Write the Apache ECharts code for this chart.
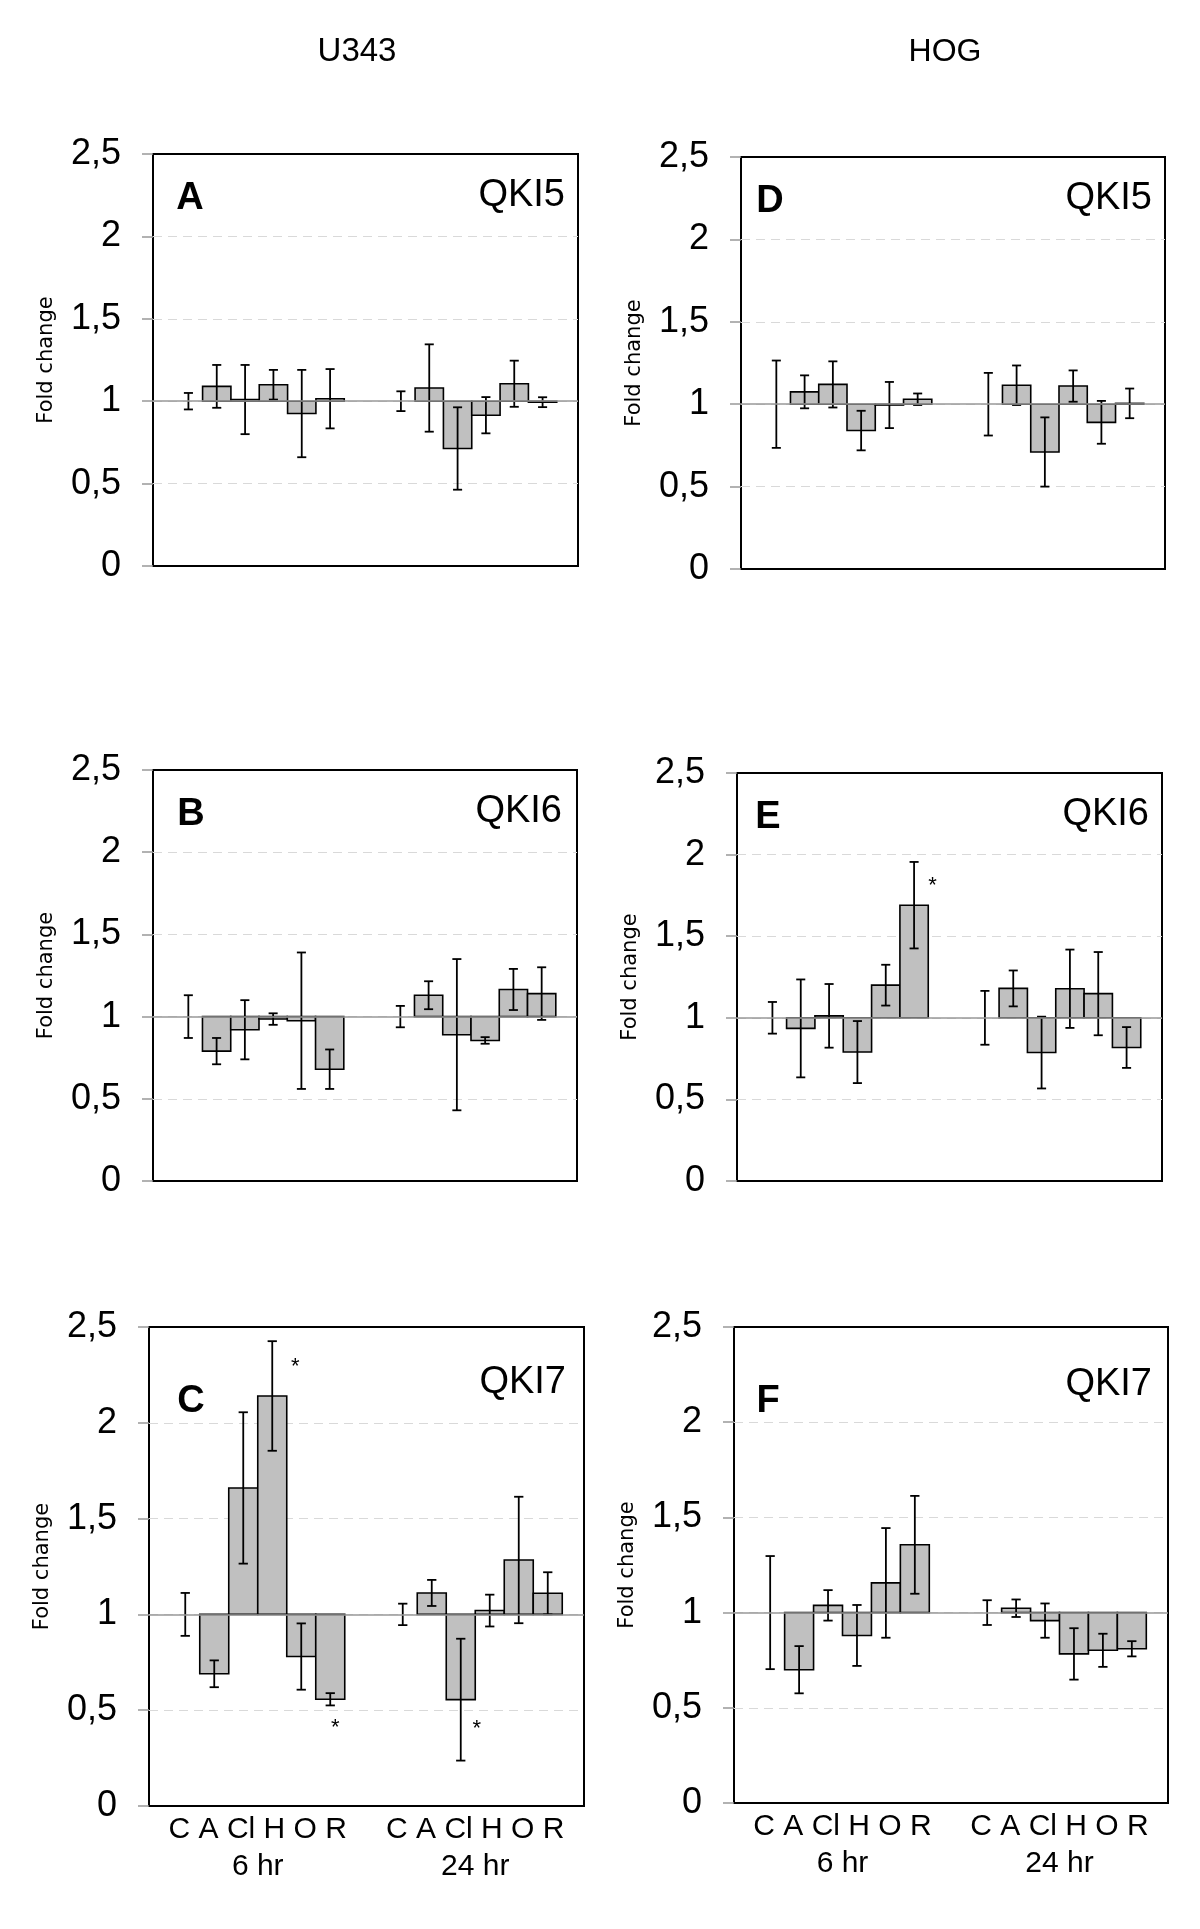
<!DOCTYPE html>
<html>
<head>
<meta charset="utf-8">
<script src="https://cdn.jsdelivr.net/npm/echarts@6/dist/echarts.min.js"></script>
<style>
  html, body { margin: 0; padding: 0; background: #fff; }
  #chart { width: 1200px; height: 1929px; }
</style>
</head>
<body>
<div id="chart"></div>
<script>
const treatments = ['C', 'A', 'Cl', 'H', 'O', 'R']
const timePoints = ['6 hr', '24 hr']
const cellLines = ['U343', 'HOG']

// fold change, 6 hr then 24 hr, in treatment order C A Cl H O R
const u343Qki5 = [1, 1.09, 1.01, 1.10, 0.925, 1.015, 1, 1.08, 0.713, 0.915, 1.106, 0.994]
const u343Qki5Err = [0.05, 0.13, 0.21, 0.09, 0.265, 0.18, 0.06, 0.265, 0.25, 0.11, 0.14, 0.03]
const u343Qki6 = [1, 0.79, 0.92, 0.985, 0.975, 0.68, 1, 1.13, 0.89, 0.855, 1.165, 1.14]
const u343Qki6Err = [0.13, 0.08, 0.18, 0.035, 0.415, 0.12, 0.065, 0.085, 0.46, 0.02, 0.125, 0.16]
const u343Qki7 = [1, 0.69, 1.66, 2.14, 0.78, 0.557, 1, 1.112, 0.555, 1.02, 1.284, 1.11]
const u343Qki7Err = [0.112, 0.07, 0.395, 0.286, 0.173, 0.032, 0.056, 0.068, 0.318, 0.083, 0.33, 0.11]

const hogQki5 = [1, 1.075, 1.12, 0.84, 0.995, 1.03, 1, 1.115, 0.71, 1.11, 0.89, 1.005]
const hogQki5Err = [0.265, 0.10, 0.14, 0.12, 0.14, 0.035, 0.19, 0.12, 0.21, 0.095, 0.13, 0.09]
const hogQki6 = [1, 0.935, 1.012, 0.79, 1.2, 1.69, 1, 1.18, 0.787, 1.178, 1.148, 0.818]
const hogQki6Err = [0.097, 0.30, 0.195, 0.19, 0.125, 0.265, 0.165, 0.11, 0.22, 0.24, 0.255, 0.125]
const hogQki7 = [1, 0.70, 1.038, 0.88, 1.156, 1.356, 1, 1.023, 0.958, 0.783, 0.802, 0.81]
const hogQki7Err = [0.297, 0.124, 0.08, 0.16, 0.288, 0.257, 0.065, 0.046, 0.09, 0.135, 0.087, 0.04]

// significance marks: [time point, bar position, fold change]
const u343Qki7Stars = [[0, 3.79, 2.29], [0, 5.17, 0.41], [1, 2.55, 0.40]]
const hogQki6Stars = [[0, 5.65, 1.81]]

const FONT = 'Liberation Sans'
const NAME_FONT = 'DejaVu Sans'

// box = [left, top, width, height]
const panels = [
  { letter: 'A', gene: 'QKI5', mean: u343Qki5, err: u343Qki5Err, stars: [], box: [153, 154, 425, 412], lx: 37, ly: 45, gx: 13, gy: 42, bottom: false },
  { letter: 'B', gene: 'QKI6', mean: u343Qki6, err: u343Qki6Err, stars: [], box: [153, 770, 424, 411], lx: 38, ly: 45, gx: 15, gy: 42, bottom: false },
  { letter: 'C', gene: 'QKI7', mean: u343Qki7, err: u343Qki7Err, stars: u343Qki7Stars, box: [149, 1327, 435, 479], lx: 42, ly: 75, gx: 18, gy: 56, bottom: true },
  { letter: 'D', gene: 'QKI5', mean: hogQki5, err: hogQki5Err, stars: [], box: [741, 157, 424, 412], lx: 29, ly: 45, gx: 13, gy: 42, bottom: false },
  { letter: 'E', gene: 'QKI6', mean: hogQki6, err: hogQki6Err, stars: hogQki6Stars, box: [737, 773, 425, 408], lx: 31, ly: 45, gx: 13, gy: 42, bottom: false },
  { letter: 'F', gene: 'QKI7', mean: hogQki7, err: hogQki7Err, stars: [], box: [734, 1327, 434, 476], lx: 34, ly: 75, gx: 16, gy: 58, bottom: true }
]

const renderBar = (params, api) => {
  const t = api.value(0)
  const i = api.value(1)
  const v = api.value(2)
  const e = api.value(3)
  const slot = api.size([1, 0])[0] / 7.5
  const base = api.coord([t, 1])
  const cx = base[0] + (i - 2.5) * slot
  const yv = api.coord([t, v])[1]
  const yHi = api.coord([t, v + e])[1]
  const yLo = api.coord([t, v - e])[1]
  const cap = slot * 0.16
  const children = []
  if (i > 0) {
    children.push({
      type: 'rect',
      shape: { x: cx - slot / 2, y: Math.min(base[1], yv), width: slot, height: Math.abs(yv - base[1]) },
      style: { fill: '#c0c0c0', stroke: '#000', lineWidth: 1.6 }
    })
  }
  const err = { stroke: '#000', lineWidth: 1.8 }
  children.push({ type: 'line', shape: { x1: cx, y1: yHi, x2: cx, y2: yLo }, style: err })
  children.push({ type: 'line', shape: { x1: cx - cap, y1: yHi, x2: cx + cap, y2: yHi }, style: err })
  children.push({ type: 'line', shape: { x1: cx - cap, y1: yLo, x2: cx + cap, y2: yLo }, style: err })
  return { type: 'group', children }
}

const renderStar = (params, api) => {
  const t = api.value(0)
  const pos = api.value(1)
  const slot = api.size([1, 0])[0] / 7.5
  const p = api.coord([t, api.value(2)])
  return {
    type: 'text',
    x: p[0] + (pos - 2.5) * slot,
    y: p[1],
    style: { text: '*', fontSize: 22, fontFamily: FONT, fill: '#000', align: 'center', verticalAlign: 'middle' }
  }
}

const grid = []
const xAxis = []
const yAxis = []
const series = []
const graphic = []

panels.forEach((p, k) => {
  const [left, top, width, height] = p.box
  grid.push({ left, top, width, height, show: true, borderColor: '#000', borderWidth: 2, backgroundColor: 'transparent' })

  xAxis.push({
    type: 'category',
    gridIndex: k,
    data: timePoints,
    axisLine: { show: false },
    axisTick: { show: false },
    axisLabel: {
      show: p.bottom,
      interval: 0,
      margin: 5,
      color: '#000',
      fontFamily: FONT,
      fontSize: 30,
      lineHeight: 37,
      formatter: v => treatments.join(' ') + '\n' + v
    }
  })

  yAxis.push({
    type: 'value',
    gridIndex: k,
    min: 0,
    max: 2.5,
    interval: 0.5,
    name: 'Fold change',
    nameLocation: 'middle',
    nameGap: 96,
    nameTextStyle: { color: '#000', fontFamily: NAME_FONT, fontSize: 21 },
    axisLine: { show: false },
    axisTick: { show: true, length: 11, lineStyle: { color: '#999', width: 1.5 } },
    axisLabel: {
      margin: 32,
      color: '#000',
      fontFamily: FONT,
      fontSize: 36,
      formatter: v => String(v).replace('.', ',')
    },
    splitLine: {
      show: true,
      lineStyle: {
        color: ['rgba(0,0,0,0)', '#d9d9d9', '#d9d9d9', '#d9d9d9', '#d9d9d9', 'rgba(0,0,0,0)'],
        type: [9, 6],
        width: 1.2
      }
    }
  })

  series.push({
    type: 'custom',
    xAxisIndex: k,
    yAxisIndex: k,
    renderItem: renderBar,
    encode: { x: 0, y: 2 },
    data: p.mean.map((m, j) => [Math.floor(j / 6), j % 6, m, p.err[j]]),
    markLine: {
      silent: true,
      symbol: 'none',
      label: { show: false },
      lineStyle: { color: '#999', type: 'solid', width: 1.5 },
      data: [{ yAxis: 1 }]
    },
    z: 3
  })

  if (p.stars.length) {
    series.push({
      type: 'custom',
      xAxisIndex: k,
      yAxisIndex: k,
      renderItem: renderStar,
      encode: { x: 0, y: 2 },
      data: p.stars,
      z: 4
    })
  }

  graphic.push({
    type: 'text',
    x: left + p.lx,
    y: top + p.ly,
    style: { text: p.letter, fontFamily: FONT, fontWeight: 'bold', fontSize: 38, fill: '#000', align: 'center', verticalAlign: 'middle' }
  })
  graphic.push({
    type: 'text',
    x: left + width - p.gx,
    y: top + p.gy,
    style: { text: p.gene, fontFamily: FONT, fontSize: 38, fill: '#000', align: 'right', verticalAlign: 'middle' }
  })
})

graphic.push({
  type: 'text', x: 357, y: 52,
  style: { text: cellLines[0], fontFamily: FONT, fontSize: 33, fill: '#000', align: 'center', verticalAlign: 'middle' }
})
graphic.push({
  type: 'text', x: 945, y: 52,
  style: { text: cellLines[1], fontFamily: FONT, fontSize: 32, fill: '#000', align: 'center', verticalAlign: 'middle' }
})

const chart = echarts.init(document.getElementById('chart'))
chart.setOption({
  animation: false,
  backgroundColor: '#fff',
  grid,
  xAxis,
  yAxis,
  series,
  graphic
})
</script>
</body>
</html>
